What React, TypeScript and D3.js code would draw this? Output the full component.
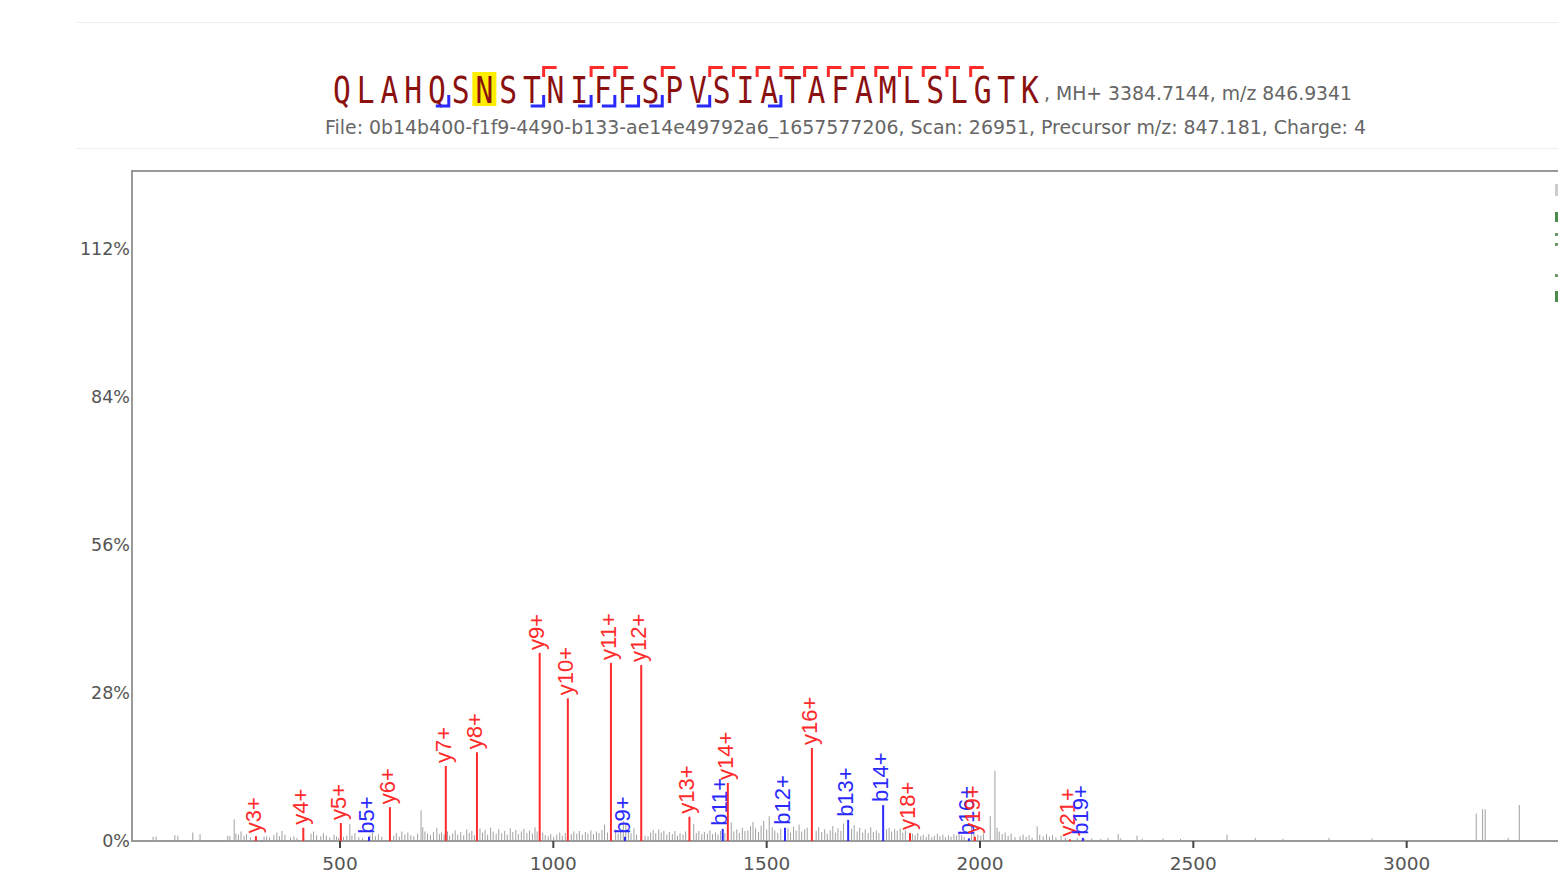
import * as d3 from "d3";

const sequence = "QLAHQSNSTNIFFSPVSIATAFAMLSLGTK".split("");
const highlightIndex = 6;
// fragment boundaries (after residue n, 1-based)
const bBreaks = [5, 9, 11, 12, 13, 14, 16, 19];
const yBreaks = [9, 11, 12, 14, 16, 17, 18, 19, 20, 21, 22, 23, 24, 25, 26, 27];

const precursorText = ", MH+ 3384.7144, m/z 846.9341";
const fileText =
  "File: 0b14b400-f1f9-4490-b133-ae14e49792a6_1657577206, Scan: 26951, Precursor m/z: 847.181, Charge: 4";

const xTicks = [500, 1000, 1500, 2000, 2500, 3000];
const yTicks = [0, 28, 56, 84, 112];

const ionLabels = ["y3+", "y4+", "y5+", "b5+", "y6+", "y7+", "y8+", "y9+", "y10+", "y11+", "b9+", "y12+", "y13+", "b11+", "y14+", "b12+", "y16+", "b13+", "b14+", "y18+", "b16+", "y19+", "y21+", "b19+"];
const ionMz = [303, 414, 502, 568, 617, 748, 821, 968, 1034, 1135, 1168, 1206, 1319, 1397, 1409, 1543, 1606, 1691, 1773, 1836, 1974, 1988, 2211, 2241];
const ionInt = [0.9, 2.5, 3.4, 0.8, 6.4, 14.2, 16.8, 35.6, 27.0, 33.7, 0.8, 33.3, 4.6, 2.3, 11.0, 2.5, 17.6, 4.0, 6.8, 1.5, 0.5, 0.8, 0.3, 0.6];

const noisePeaks: [number, number][] = [
  [62, 0.8], [69, 0.8], [113, 1.1], [120, 1.0], [155, 1.6], [172, 1.3],
  [237, 1.0], [242, 0.9], [252, 4.1], [256, 1.4], [262, 1.2], [268, 1.8], [275, 1.0], [281, 1.3],
  [290, 0.7], [302, 0.6], [322, 0.8], [328, 0.9], [335, 0.7], [345, 1.1], [352, 1.6], [358, 0.9],
  [364, 1.9], [371, 1.2], [384, 0.7], [392, 0.9], [399, 0.6], [415, 0.5], [432, 1.4], [438, 1.8],
  [445, 1.1], [455, 0.9], [461, 1.5], [468, 1.0], [476, 0.7], [486, 1.2], [492, 0.9], [497, 0.6],
  [508, 0.8], [516, 1.0], [523, 3.2], [528, 1.0], [535, 1.5], [544, 0.7], [553, 0.6], [570, 1.1],
  [576, 1.6], [583, 0.9], [590, 1.3], [598, 0.8], [626, 1.0], [632, 1.5], [639, 0.8], [645, 1.8],
  [652, 1.2], [659, 1.6], [666, 1.1], [673, 0.9], [682, 1.4], [690, 5.8], [694, 2.6], [699, 1.8],
  [705, 1.4], [712, 1.1], [719, 1.7], [727, 2.5], [733, 1.3],
  [738, 1.6], [744, 1.2], [752, 1.8], [757, 1.0], [764, 1.4], [770, 2.0], [776, 1.2], [783, 1.7],
  [790, 1.1], [797, 2.2], [803, 1.5], [809, 1.9], [815, 1.1], [828, 2.4], [834, 1.6], [840, 2.1],
  [846, 1.2], [853, 2.5], [859, 1.8], [866, 1.4], [872, 2.2], [879, 1.5], [886, 1.9], [892, 1.2],
  [899, 2.4], [905, 1.7], [912, 2.1], [918, 1.3], [925, 1.8], [931, 2.3], [938, 1.5], [944, 2.0],
  [951, 1.4], [957, 2.6], [962, 1.8], [975, 1.6], [981, 1.1], [988, 0.9], [994, 1.3], [1001, 0.8],
  [1008, 1.2], [1015, 1.6], [1021, 1.0], [1028, 1.5], [1042, 1.3], [1048, 1.8], [1055, 1.4],
  [1061, 1.9], [1068, 1.2], [1075, 1.7], [1081, 1.4], [1088, 2.0], [1094, 1.3], [1101, 1.8],
  [1107, 1.5], [1114, 2.1], [1120, 3.1], [1127, 1.6], [1146, 2.2], [1152, 1.4], [1158, 1.9],
  [1164, 3.8], [1170, 3.2], [1176, 2.0], [1182, 1.5], [1189, 2.4], [1195, 1.2], [1215, 1.0],
  [1222, 0.9], [1228, 1.6], [1234, 2.1], [1240, 1.5], [1247, 2.2], [1253, 1.6], [1259, 1.9],
  [1266, 1.2], [1272, 1.7], [1279, 1.3], [1285, 1.9], [1291, 1.0], [1297, 1.5], [1304, 1.2],
  [1310, 1.8], [1329, 3.2], [1335, 1.5], [1341, 1.9], [1348, 1.3], [1354, 1.7], [1361, 1.4],
  [1367, 2.0], [1373, 1.3], [1380, 1.6], [1386, 1.2], [1392, 1.9], [1402, 1.5], [1417, 3.5],
  [1423, 1.8], [1430, 2.2], [1436, 1.5], [1443, 2.5], [1449, 1.9], [1456, 2.0], [1462, 2.8],
  [1468, 3.6], [1474, 2.4], [1481, 1.7], [1487, 2.9], [1493, 3.8], [1500, 2.2], [1506, 4.7],
  [1513, 2.6], [1519, 2.0], [1526, 1.5], [1533, 2.3], [1550, 2.4], [1556, 1.6], [1563, 2.7],
  [1569, 2.0], [1576, 3.1], [1582, 1.8], [1589, 2.2], [1595, 2.5], [1616, 1.9], [1622, 2.6],
  [1629, 1.7], [1636, 2.2], [1642, 1.4], [1649, 2.0], [1655, 2.8], [1661, 1.6], [1667, 2.4],
  [1674, 1.9], [1680, 3.3], [1699, 2.3], [1705, 3.0], [1712, 1.8], [1718, 2.5], [1725, 1.6],
  [1731, 2.2], [1738, 1.5], [1744, 2.6], [1750, 1.7], [1757, 2.0], [1763, 1.5], [1781, 2.2],
  [1787, 2.5], [1793, 1.8], [1800, 2.3], [1806, 1.9], [1813, 2.4], [1819, 1.6], [1825, 2.0],
  [1842, 1.4], [1848, 1.1], [1854, 1.5], [1861, 0.9], [1867, 1.2], [1874, 0.8], [1880, 1.3],
  [1887, 0.7], [1893, 1.0], [1900, 1.4], [1906, 0.9], [1913, 1.2], [1919, 0.7], [1926, 1.1],
  [1932, 0.8], [1939, 1.3], [1945, 1.0], [1951, 1.5], [1957, 1.1], [1963, 0.8], [1980, 3.2],
  [1986, 1.6], [1995, 1.2], [2002, 1.0], [2008, 1.4], [2024, 4.7], [2035, 13.3], [2040, 2.5],
  [2045, 1.8], [2052, 1.3], [2059, 1.6], [2066, 1.0], [2073, 1.4], [2082, 0.7], [2094, 0.9],
  [2101, 1.2], [2108, 0.8], [2115, 1.1], [2122, 0.6], [2134, 2.8], [2140, 1.2], [2148, 0.9],
  [2156, 1.3], [2163, 0.8], [2170, 1.1], [2178, 0.7], [2190, 1.0], [2200, 0.6], [2228, 0.5],
  [2245, 0.4], [2262, 0.5], [2283, 0.4], [2300, 0.6], [2324, 1.3], [2330, 0.5], [2368, 1.0],
  [2380, 0.4], [2429, 0.5], [2470, 0.4], [2579, 1.2], [2645, 0.6], [2710, 0.4], [2818, 0.6],
  [2919, 0.5], [3163, 5.2], [3178, 6.0], [3184, 6.0], [3238, 0.6], [3264, 6.8],
];

// slivers of the legend that sits past the right edge
const legendBits = [
  { y: 184, h: 12, c: "#ccc" },
  { y: 212, h: 10, c: "#4a8a4a" },
  { y: 233, h: 3, c: "#6a9a6a" },
  { y: 243, h: 3, c: "#6a9a6a" },
  { y: 274, h: 3, c: "#6a9a6a" },
  { y: 291, h: 11, c: "#4a8a4a" },
];

const red = "#ff2a2a";
const blue = "#2a2aff";
const axisFont = "'DejaVu Sans', Verdana, sans-serif";

export default function App() {
  const W = 1558;
  const H = 873;
  const x = d3.scaleLinear().domain([12.5, 3500]).range([132, 1620]);
  const y = d3.scaleLinear().domain([0, 126.8]).range([841, 171]);
  const res = d3.scaleLinear().domain([0, 29]).range([342, 1030]);

  return (
    <div style={{ position: "fixed", left: 0, top: 0, width: W, height: H, overflow: "hidden", background: "#fff" }}>
      <svg width={W} height={H} style={{ display: "block" }}>
        {/* header separators */}
        <line x1={76} x2={W} y1={22.5} y2={22.5} stroke="#eee" />
        <line x1={76} x2={W} y1={148.5} y2={148.5} stroke="#eee" />

        {/* sequence */}
        <rect x={res(highlightIndex) - 12} y={72} width={24} height={34} fill="#ffee00" />
        {sequence.map((aa, i) => (
          <text
            key={i}
            transform={`translate(${res(i)},103) scale(0.8,1)`}
            textAnchor="middle"
            fontFamily="'DejaVu Sans Mono', monospace"
            fontSize={37}
            fill="#8b1010"
          >
            {aa}
          </text>
        ))}
        {yBreaks.map((n) => {
          const bx = res(n - 0.5);
          return (
            <path key={"y" + n} d={`M${bx},77V67.5H${bx + 13}`} fill="none" stroke={red} strokeWidth={3} />
          );
        })}
        {bBreaks.map((n) => {
          const bx = res(n - 0.5);
          return (
            <path key={"b" + n} d={`M${bx - 13},106H${bx}V95`} fill="none" stroke={blue} strokeWidth={3} />
          );
        })}
        <text x={1044} y={100} fontFamily={axisFont} fontSize={19} fill="#666" textLength={308} lengthAdjust="spacingAndGlyphs">
          {precursorText}
        </text>
        <text x={325} y={134} fontFamily={axisFont} fontSize={19} fill="#666" textLength={1041} lengthAdjust="spacingAndGlyphs">
          {fileText}
        </text>

        {/* plot frame */}
        <rect x={132} y={171} width={1620 - 132} height={841 - 171} fill="none" stroke="#999" strokeWidth={2} />

        {/* y ticks */}
        {yTicks.map((t) => (
          <text key={t} x={130} y={y(t)} dy="0.35em" textAnchor="end" fontFamily={axisFont} fontSize={17.5} fill="#555">
            {t}%
          </text>
        ))}

        {/* x ticks */}
        {xTicks.map((t) => (
          <g key={t} transform={`translate(${x(t)},0)`}>
            <line y1={841} y2={848} stroke="#444" strokeWidth={2} />
            <text y={870} textAnchor="middle" fontFamily={axisFont} fontSize={18.5} fill="#555">
              {t}
            </text>
          </g>
        ))}

        {/* noise peaks */}
        {noisePeaks.map(([mz, v], i) => (
          <line key={i} x1={x(mz)} x2={x(mz)} y1={y(0)} y2={y(v)} stroke="#a0a0a0" strokeWidth={1} />
        ))}

        {/* annotated ions */}
        {ionLabels.map((lab, i) => {
          const c = lab[0] === "b" ? blue : red;
          const px = x(ionMz[i]);
          return (
            <g key={lab}>
              <line x1={px} x2={px} y1={y(0)} y2={y(ionInt[i])} stroke={c} strokeWidth={2} />
              <text
                transform={`translate(${px - 3},${y(ionInt[i]) - 3}) rotate(-90)`}
                dy="0.35em"
                fontFamily="'Liberation Sans', Arial, sans-serif"
                fontSize={22}
                fill={c}
              >
                {lab}
              </text>
            </g>
          );
        })}

        {/* legend slivers at the right edge */}
        {legendBits.map((b, i) => (
          <rect key={i} x={1555} y={b.y} width={4} height={b.h} fill={b.c} />
        ))}
      </svg>
    </div>
  );
}
